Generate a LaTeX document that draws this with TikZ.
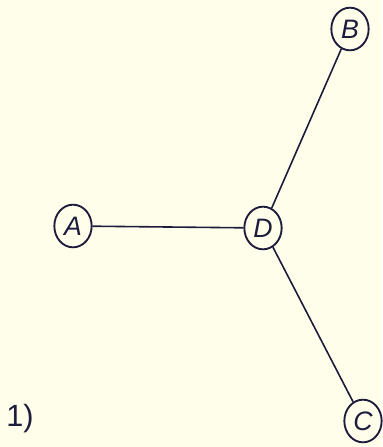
\documentclass[tikz,border=0pt]{standalone}
\usepackage{fontspec}
\setsansfont{Liberation Sans}
\usetikzlibrary{shapes.geometric}

\definecolor{paper}{RGB}{254,254,234}
\definecolor{ink}{RGB}{30,28,60}

\tikzset{
  vtx/.style={draw=ink,line width=1.4pt,ellipse,inner sep=0pt,
    minimum width=28pt,minimum height=32pt,
    font=\sffamily\itshape\fontsize{20}{20}\selectfont,text=ink},
  edge/.style={draw=ink,line width=1.2pt}
}

\begin{document}
\begin{tikzpicture}[x=0.75pt,y=-0.75pt]
    % paper
    \fill[paper] (0,0) rectangle (382,447);
    % vertices
    \node[vtx] (A) at (73,226) {A};
    \node[vtx] (D) at (263,228) {D};
    \node[vtx] (B) at (350,29) {B};
    \node[vtx] (C) at (363,421) {C};
    % edges
    \draw[edge] (A) -- (D);
    \draw[edge] (D) -- (B);
    \draw[edge] (D) -- (C);
    % label
    \node[font=\sffamily\fontsize{23}{23}\selectfont,text=ink] (lbl) at (20,419) {1)};
\end{tikzpicture}
\end{document}
